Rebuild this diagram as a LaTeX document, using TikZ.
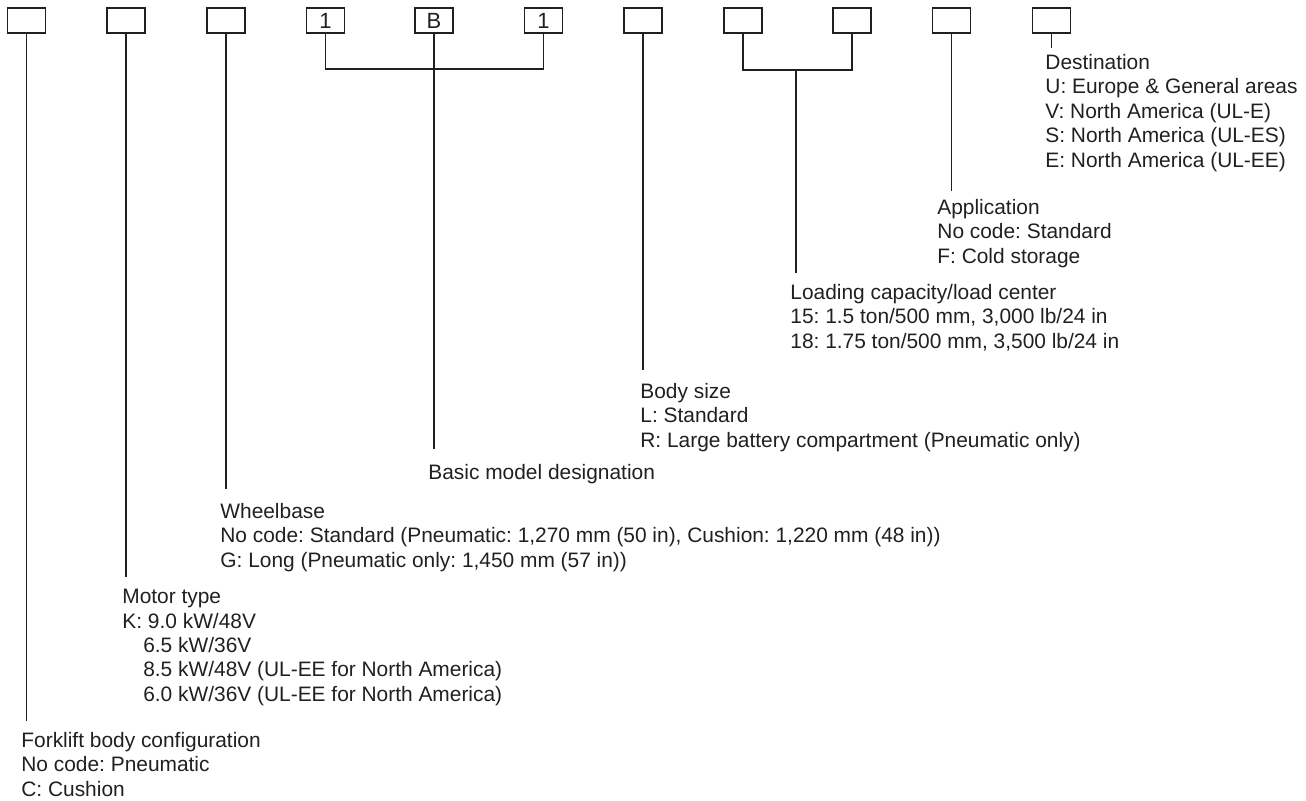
\documentclass[tikz,border=0pt]{standalone}
\usepackage{fontspec}
\setmainfont{Liberation Sans}
\usetikzlibrary{positioning}
\frenchspacing

\definecolor{ink}{HTML}{231F20}

\begin{document}
\begin{tikzpicture}[
    x=0.5pt, y=-0.5pt,
    code/.style={rectangle, draw=ink, line width=0.7pt, minimum width=19pt, minimum height=12.5pt,
                 inner sep=0pt, text=ink, font=\fontsize{11}{12}\selectfont},
    info/.style={anchor=north west, inner sep=0pt, align=left, text=ink,
                 font=\fontsize{10.45}{12.2}\selectfont},
    lead/.style={draw=ink, line width=0.7pt}
]
\useasboundingbox (0,0) rectangle (1306,801);
% code boxes
\node[code] (c1) at (26.5,20.5) {};
\node[code] (c2) at (126,20.5) {};
\node[code] (c3) at (226,20.5) {};
\node[code] (c4) at (325.5,20.5) {1};
\node[code] (c5) at (434,20.5) {B};
\node[code] (c6) at (543.5,20.5) {1};
\node[code] (c7) at (643,20.5) {};
\node[code] (c8) at (743,20.5) {};
\node[code] (c9) at (852,20.5) {};
\node[code] (c10) at (951.5,20.5) {};
\node[code] (c11) at (1051.5,20.5) {};
% explanations
\node[info] (t1) at (21,732) {Forklift body configuration\\No code: Pneumatic\\C: Cushion};
\node[info] (t2) at (122,589) {Motor type\\K: 9.0 kW/48V\\\hspace*{1em}6.5 kW/36V\\\hspace*{1em}8.5 kW/48V (UL-EE for North America)\\\hspace*{1em}6.0 kW/36V (UL-EE for North America)};
\node[info] (t3) at (220,503) {Wheelbase\\No code: Standard (Pneumatic: 1,270 mm (50 in), Cushion: 1,220 mm (48 in))\\G: Long (Pneumatic only: 1,450 mm (57 in))};
\node[info] (t5) at (428,464) {Basic model designation};
\node[info] (t7) at (640,383) {Body size\\L: Standard\\R: Large battery compartment (Pneumatic only)};
\node[info] (t8) at (790,284) {Loading capacity/load center\\15: 1.5 ton/500 mm, 3,000 lb/24 in\\18: 1.75 ton/500 mm, 3,500 lb/24 in};
\node[info] (t10) at (937,199) {Application\\No code: Standard\\F: Cold storage};
\node[info] (t11) at (1045,54) {Destination\\U: Europe \& General areas\\V: North America (UL-E)\\S: North America (UL-ES)\\E: North America (UL-EE)};
% line ends and joints
\coordinate (e1) at (26.5,721);
\coordinate (e2) at (126,577);
\coordinate (e3) at (226,489);
\coordinate (j1) at (434,69);
\coordinate (e5) at (434,449);
\coordinate (e7) at (643,370);
\coordinate (j2) at (796,70);
\coordinate (e8) at (796,273);
\coordinate (e10) at (951.5,191);
\coordinate (e11) at (1051.5,48);
\draw[lead] (c1.south) -- (e1);
\draw[lead] (c2.south) -- (e2);
\draw[lead] (c3.south) -- (e3);
\draw[lead] (c4.south) -- (c4.south |- j1) -- (c6.south |- j1) -- (c6.south);
\draw[lead] (c5.south) -- (e5);
\draw[lead] (c7.south) -- (e7);
\draw[lead] (c8.south) -- (c8.south |- j2) -- (c9.south |- j2) -- (c9.south);
\draw[lead] (j2) -- (e8);
\draw[lead] (c10.south) -- (e10);
\draw[lead] (c11.south) -- (e11);
\end{tikzpicture}
\end{document}
